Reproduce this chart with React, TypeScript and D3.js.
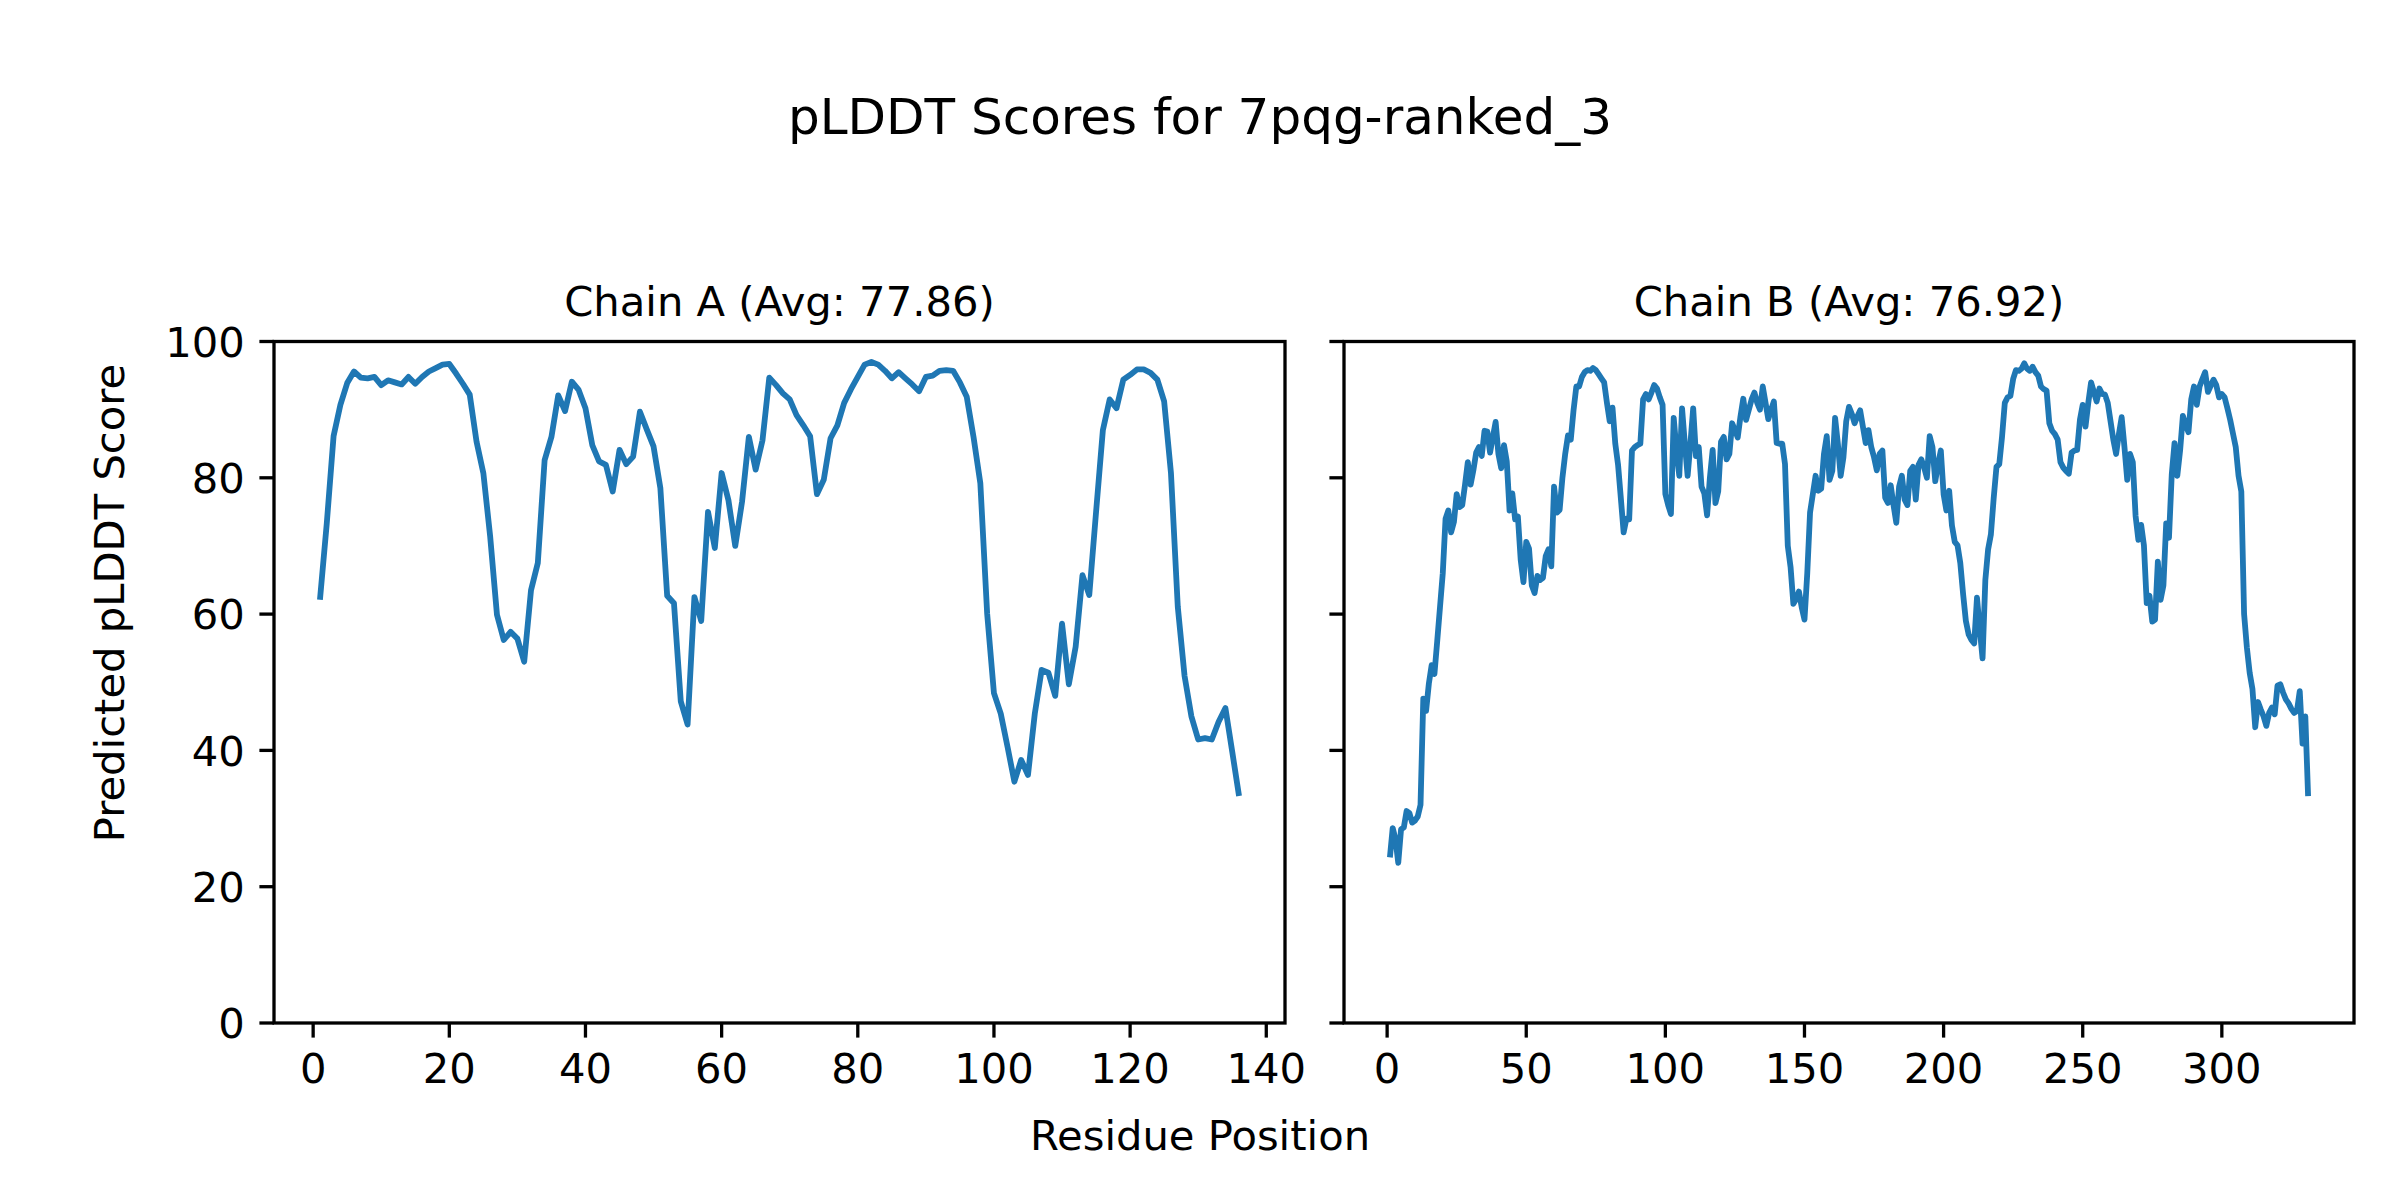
import * as d3 from "d3"

// pLDDT per residue
const chainA = [
  62.1, 73.3, 86.1, 90.7, 93.9, 95.6, 94.7, 94.6, 94.8, 93.6,
  94.3, 94.0, 93.7, 94.8, 93.8, 94.8, 95.6, 96.1, 96.6, 96.7,
  95.3, 93.8, 92.2, 85.3, 80.7, 71.4, 59.9, 56.2, 57.4, 56.4,
  53.0, 63.5, 67.5, 82.6, 86.0, 92.1, 89.8, 94.1, 92.9, 90.2,
  84.8, 82.4, 81.9, 78.0, 84.1, 82.0, 83.1, 89.7, 87.1, 84.6,
  78.5, 62.7, 61.6, 47.2, 43.8, 62.5, 59.0, 75.0, 69.7, 80.7,
  76.7, 70.0, 76.5, 86.0, 81.2, 85.5, 94.7, 93.6, 92.4, 91.5,
  89.2, 87.7, 86.1, 77.6, 79.7, 85.8, 87.7, 91.0, 93.0, 94.8,
  96.6, 97.0, 96.6, 95.7, 94.6, 95.5, 94.6, 93.7, 92.7, 94.8,
  95.0, 95.7, 95.8, 95.7, 94.0, 91.9, 86.0, 79.2, 60.1, 48.4,
  45.4, 40.5, 35.4, 38.6, 36.4, 45.4, 51.8, 51.4, 48.0, 58.6,
  49.7, 55.2, 65.7, 62.8, 75.0, 87.0, 91.5, 90.2, 94.4, 95.1,
  95.9, 95.9, 95.4, 94.4, 91.2, 80.7, 61.1, 50.9, 45.0, 41.6,
  41.8, 41.6, 44.2, 46.2, 39.8, 33.3,
]

const chainB = [
  24.3, 28.6, 27.0, 23.5, 28.4, 28.7, 31.1, 30.8, 29.4, 29.7,
  30.3, 32.0, 47.6, 45.8, 49.8, 52.5, 51.2, 56.0, 61.0, 66.0,
  74.0, 75.2, 72.0, 73.5, 77.6, 75.7, 76.0, 79.0, 82.3, 79.0,
  81.1, 83.7, 84.5, 83.2, 86.9, 86.8, 83.7, 86.0, 88.2, 83.5,
  81.4, 84.8, 82.4, 75.2, 77.7, 73.9, 74.3, 68.0, 64.7, 70.6,
  69.6, 64.2, 63.1, 65.6, 65.0, 65.3, 68.5, 69.5, 67.0, 78.7,
  74.9, 75.3, 80.0, 83.5, 86.2, 85.6, 89.9, 93.4, 93.4, 94.8,
  95.5, 95.8, 95.7, 96.1, 95.8, 95.2, 94.6, 94.0, 91.0, 88.3,
  90.3, 85.0, 81.9, 77.0, 72.0, 74.0, 73.9, 84.0, 84.5, 84.8,
  85.0, 91.5, 92.3, 91.5, 92.5, 93.6, 93.1, 91.8, 90.7, 77.6,
  76.0, 74.7, 88.8, 84.0, 80.3, 90.2, 85.0, 80.3, 85.0, 90.2,
  83.2, 84.5, 78.7, 77.7, 74.5, 80.0, 84.1, 76.3, 78.0, 85.3,
  86.0, 82.7, 83.5, 88.0, 87.0, 85.9, 89.0, 91.6, 88.5, 90.0,
  91.5, 92.5, 91.0, 90.0, 93.4, 91.0, 88.6, 90.0, 91.2, 85.1,
  85.0, 85.0, 82.0, 70.0, 66.9, 61.5, 62.2, 63.3, 61.0, 59.2,
  66.0, 74.9, 77.6, 80.3, 78.1, 78.4, 83.5, 86.1, 79.7, 81.0,
  88.8, 85.0, 80.3, 83.0, 88.3, 90.4, 89.4, 88.0, 89.0, 89.9,
  87.5, 85.1, 87.0, 84.5, 83.0, 81.1, 83.5, 84.0, 77.1, 76.3,
  78.9, 76.0, 73.4, 78.7, 80.3, 76.8, 76.0, 81.0, 81.6, 76.8,
  81.9, 82.7, 81.5, 80.0, 86.1, 84.5, 79.5, 82.0, 84.0, 77.6,
  75.2, 78.1, 73.0, 70.6, 70.1, 67.5, 63.0, 59.0, 57.0, 56.2,
  55.7, 62.4, 57.8, 53.5, 65.0, 69.5, 71.7, 77.0, 81.6, 82.0,
  86.0, 91.0, 91.8, 92.0, 94.5, 95.8, 95.7, 96.0, 96.8, 96.0,
  95.7, 96.3, 95.5, 95.0, 93.4, 93.0, 92.8, 88.0, 86.9, 86.4,
  85.6, 82.3, 81.5, 81.0, 80.6, 83.7, 84.0, 84.1, 88.5, 90.7,
  87.5, 91.0, 94.0, 92.6, 91.2, 93.1, 92.3, 92.2, 91.0, 88.3,
  85.6, 83.5, 86.4, 88.9, 84.5, 79.7, 83.5, 82.3, 74.4, 70.9,
  73.1, 70.1, 61.6, 62.7, 58.9, 59.2, 67.7, 62.1, 64.2, 73.3,
  71.2, 80.5, 85.1, 80.3, 84.0, 89.1, 87.8, 86.7, 91.5, 93.4,
  90.7, 93.4, 94.5, 95.5, 92.6, 93.5, 94.4, 93.6, 91.8, 92.3,
  91.8, 90.2, 88.5, 86.5, 84.5, 80.3, 78.0, 60.0, 55.1, 51.4,
  49.0, 43.4, 47.1, 46.0, 45.0, 43.6, 45.5, 46.3, 45.3, 49.5,
  49.7, 48.5, 47.5, 46.9, 46.1, 45.5, 45.8, 48.7, 41.0, 45.0,
  33.3,
]

const panels = [
  { title: "Chain A (Avg: 77.86)", values: chainA, ticks: [0, 20, 40, 60, 80, 100, 120, 140], left: 274, right: 1285 },
  { title: "Chain B (Avg: 76.92)", values: chainB, ticks: [0, 50, 100, 150, 200, 250, 300], left: 1344, right: 2354 },
]
const yTicks = [0, 20, 40, 60, 80, 100]

const FONT = "DejaVu Sans, Liberation Sans, sans-serif"
const TOP = 341.5
const BOTTOM = 1023
const TICK = 14.6
const FS = 41.7
const LINE = "#1f77b4"

function Panel({ p, showY }: { p: (typeof panels)[number]; showY: boolean }) {
  const n = p.values.length
  const pad = (n - 1) * 0.05
  const x = d3.scaleLinear().domain([1 - pad, n + pad]).range([p.left, p.right])
  const y = d3.scaleLinear().domain([0, 100]).range([BOTTOM, TOP])
  const line = d3
    .line<number>()
    .x((_, i) => x(i + 1))
    .y((d) => y(d))
  return (
    <g>
      <path d={line(p.values) ?? ""} fill="none" stroke={LINE} strokeWidth={5.8} strokeLinejoin="round" strokeLinecap="butt" />
      <rect x={p.left} y={TOP} width={p.right - p.left} height={BOTTOM - TOP} fill="none" stroke="#000" strokeWidth={3.3} />
      {p.ticks.map((t) => (
        <g key={t}>
          <line x1={x(t)} x2={x(t)} y1={BOTTOM} y2={BOTTOM + TICK} stroke="#000" strokeWidth={3.3} />
          <text x={x(t)} y={BOTTOM + TICK + 14.6 + 31} fontSize={FS} textAnchor="middle" fontFamily={FONT}>
            {t}
          </text>
        </g>
      ))}
      {yTicks.map((t) => (
        <g key={t}>
          <line x1={p.left - TICK} x2={p.left} y1={y(t)} y2={y(t)} stroke="#000" strokeWidth={3.3} />
          {showY && (
            <text x={p.left - TICK - 14.6} y={y(t) + 15.2} fontSize={FS} textAnchor="end" fontFamily={FONT}>
              {t}
            </text>
          )}
        </g>
      ))}
      <text x={(p.left + p.right) / 2} y={TOP - 26} fontSize={FS} textAnchor="middle" fontFamily={FONT}>
        {p.title}
      </text>
    </g>
  )
}

export default function App() {
  return (
    <svg
      width={2400}
      height={1200}
      style={{ position: "absolute", left: 0, top: 0, background: "#fff" }}
    >
      <rect width={2400} height={1200} fill="#fff" />
      <text x={1200} y={134} fontSize={50} textAnchor="middle" fontFamily={FONT}>
        pLDDT Scores for 7pqg-ranked_3
      </text>
      {panels.map((p, i) => (
        <Panel key={p.title} p={p} showY={i === 0} />
      ))}
      <text x={1200} y={1150} fontSize={FS} textAnchor="middle" fontFamily={FONT}>
        Residue Position
      </text>
      <text
        transform={`translate(124,603) rotate(-90)`}
        fontSize={FS}
        textAnchor="middle"
        fontFamily={FONT}
      >
        Predicted pLDDT Score
      </text>
    </svg>
  )
}
